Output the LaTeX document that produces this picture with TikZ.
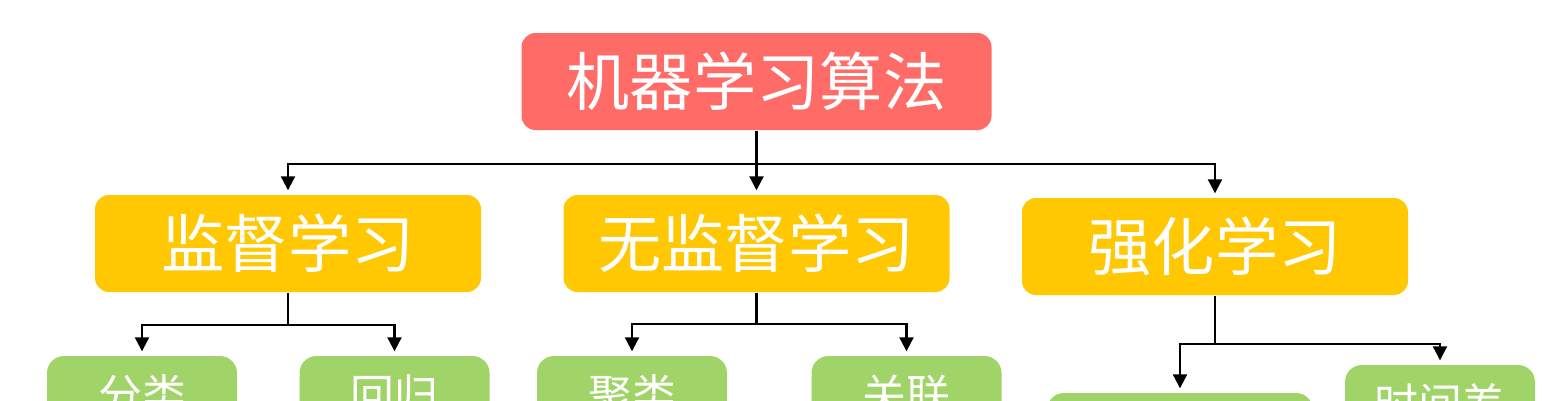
\documentclass[tikz,border=0pt]{standalone}
\usepackage{fontspec}
\newfontfamily\cjk{Noto Sans CJK SC}
\usetikzlibrary{arrows.meta}
\definecolor{algred}{HTML}{FF6B66}
\definecolor{groupyellow}{HTML}{FFC803}
\definecolor{leafgreen}{HTML}{A0D468}

\begin{document}
\begin{tikzpicture}[
  box/.style={rectangle, rounded corners=0.14cm, inner sep=0pt, text=white},
  algbox/.style={box, fill=algred, minimum width=4.70cm, minimum height=0.97cm, font=\cjk\fontsize{18pt}{20pt}\selectfont},
  groupbox/.style={box, fill=groupyellow, minimum width=3.86cm, minimum height=0.97cm, font=\cjk\fontsize{18pt}{20pt}\selectfont},
  leafbox/.style={box, rounded corners=0.17cm, fill=leafgreen, minimum width=1.90cm, minimum height=0.78cm, font=\cjk\fontsize{12.5pt}{15pt}\selectfont},
  link/.style={line width=0.6pt},
  arrow/.style={link, -{Triangle[width=4pt,length=4pt]}, shorten >=0.04cm}
]
\useasboundingbox (0,0) rectangle (15.61,-4.00);
\clip (0,0) rectangle (15.61,-4.00);

\node[algbox] (alg) at (7.565,-0.815) {机器学习算法};

\node[groupbox] (sup)   at ( 2.88,-2.435) {监督学习};
\node[groupbox] (unsup) at (7.565,-2.435) {无监督学习};
\node[groupbox] (rl)    at (12.15,-2.465) {强化学习};

\node[leafbox] (cls)  at (1.42,-3.95) {分类};
\node[leafbox] (reg)  at (3.945,-3.95) {回归};
\node[leafbox] (clu)  at (6.32,-3.95) {聚类};
\node[leafbox] (asso) at (9.065,-3.95) {关联};
\node[leafbox, minimum width=2.66cm] (rlleft) at (11.80,-4.32) {};
\node[leafbox] (td)   at (14.40,-4.04) {时间差};

\path % split points
 (alg.south)   +(0,-0.33) coordinate (algsplit)
 (sup.south)   +(0,-0.32) coordinate (supsplit)
 (unsup.south) +(0,-0.31) coordinate (unsupsplit)
 (rl.south)    +(0,-0.48) coordinate (rlsplit)
 ;

\draw[link] (alg.south) -- (algsplit);
\draw[arrow] (algsplit) -| (sup.north);
\draw[arrow] (algsplit) -- (unsup.north);
\draw[arrow] (algsplit) -| (rl.north);

\draw[link] (sup.south) -- (supsplit);
\draw[arrow] (supsplit) -| (cls.north);
\draw[arrow] (supsplit) -| (reg.north);

\draw[link] (unsup.south) -- (unsupsplit);
\draw[arrow] (unsupsplit) -| (clu.north);
\draw[arrow] (unsupsplit) -| (asso.north);

\draw[link] (rl.south) -- (rlsplit);
\draw[arrow] (rlsplit) -| (rlleft.north);
\draw[arrow] (rlsplit) -| (td.north);

\end{tikzpicture}
\end{document}
